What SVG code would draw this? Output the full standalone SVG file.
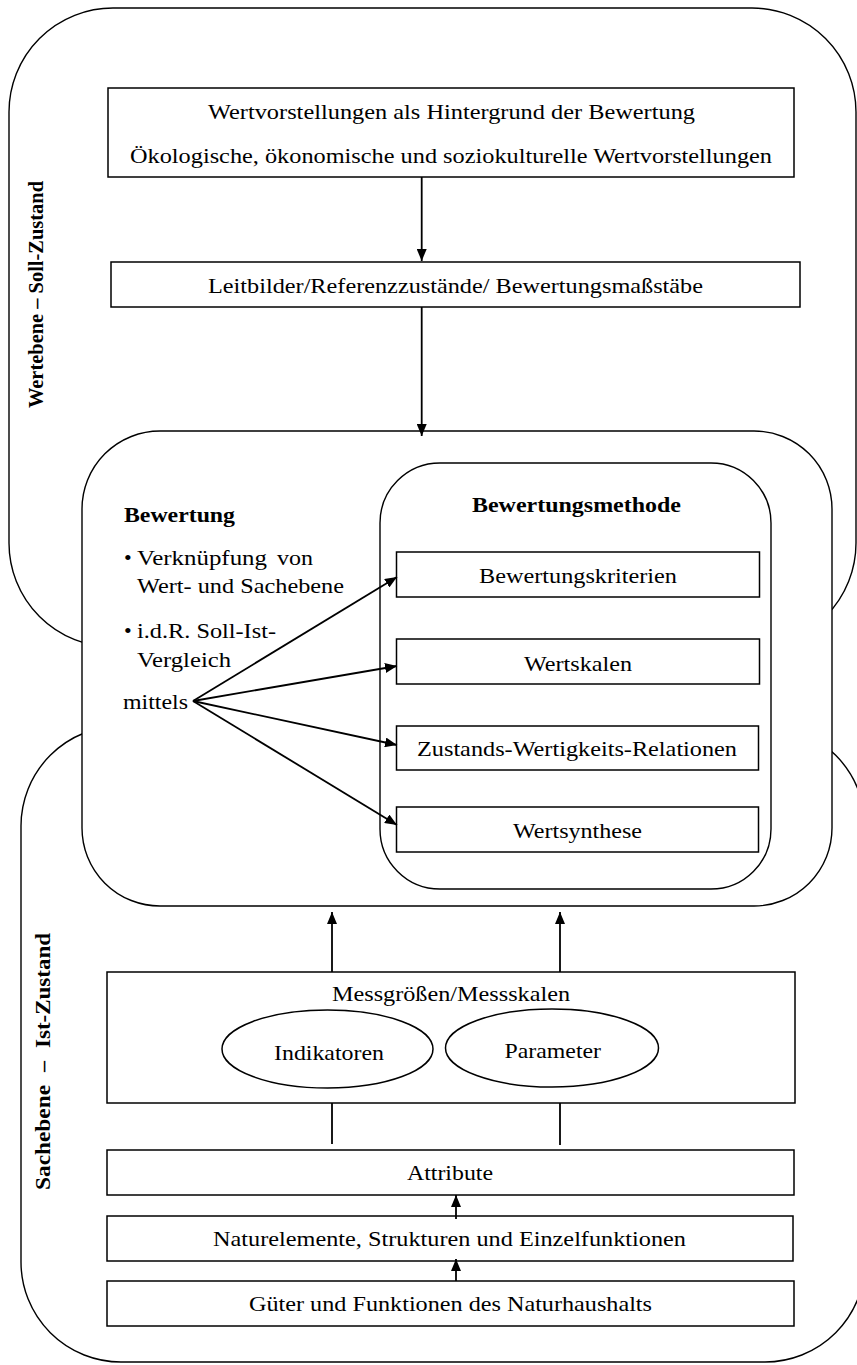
<svg xmlns="http://www.w3.org/2000/svg" width="857" height="1365" viewBox="0 0 857 1365">
  <style>
    .frame { fill: none; stroke: #000; stroke-width: 1.4; }
    .panel { fill: #fff; stroke: #000; stroke-width: 1.4; }
    .box { fill: #fff; stroke: #000; stroke-width: 1.5; }
    .link { fill: none; stroke: #000; stroke-width: 1.8; }
    .arrow { fill: none; stroke: #000; stroke-width: 1.8; marker-end: url(#ah); }
    text { font-family: "Liberation Serif", Tinos, "Times New Roman", Times, serif; font-size: 22px; fill: #000; }
    .b { font-weight: bold; }
    .side { font-weight: bold; font-size: 20.5px; }
    .side2 { font-weight: bold; font-size: 22px; }
  </style>
  <defs>
    <marker id="ah" markerWidth="12" markerHeight="10" refX="12" refY="5" orient="auto" markerUnits="userSpaceOnUse">
      <path d="M0,0 L12,5 L0,10 z" fill="#000"/>
    </marker>
  </defs>

  <!-- level frames -->
  <g id="wertebene">
    <rect class="frame" x="9" y="8" width="847" height="639" rx="104" ry="104"/>
    <text class="side" transform="translate(43,408) rotate(-90)" x="0" y="0" textLength="227" lengthAdjust="spacingAndGlyphs">Wertebene – Soll-Zustand</text>
  </g>
  <g id="sachebene">
    <rect class="frame" x="21" y="726" width="844" height="636" rx="100" ry="100"/>
    <g transform="translate(50,1190) rotate(-90)">
      <text class="side2" x="0" y="0" textLength="105" lengthAdjust="spacingAndGlyphs">Sachebene</text>
      <text class="side2" x="118" y="0">–</text>
      <text class="side2" x="142" y="0" textLength="115" lengthAdjust="spacingAndGlyphs">Ist-Zustand</text>
    </g>
  </g>

  <!-- upper value level -->
  <g id="wertvorstellungen">
    <rect class="box" x="108" y="88" width="686" height="89"/>
    <text x="208" y="119" textLength="487" lengthAdjust="spacingAndGlyphs">Wertvorstellungen als Hintergrund der Bewertung</text>
    <text x="130" y="163" textLength="642" lengthAdjust="spacingAndGlyphs">Ökologische, ökonomische und soziokulturelle Wertvorstellungen</text>
  </g>
  <g id="leitbilder">
    <rect class="box" x="111" y="262" width="689" height="45"/>
    <text x="208" y="293" textLength="495" lengthAdjust="spacingAndGlyphs">Leitbilder/Referenzzustände/ Bewertungsmaßstäbe</text>
  </g>

  <!-- assessment -->
  <g id="bewertung">
    <rect class="panel" x="82" y="431" width="750" height="475" rx="78" ry="78"/>
    <text class="b" x="124" y="522" textLength="111" lengthAdjust="spacingAndGlyphs">Bewertung</text>
    <text x="124" y="565">•</text>
    <text x="137" y="565" textLength="130" lengthAdjust="spacingAndGlyphs">Verknüpfung</text>
    <text x="277" y="565" textLength="36" lengthAdjust="spacingAndGlyphs">von</text>
    <text x="137" y="593" textLength="207" lengthAdjust="spacingAndGlyphs">Wert- und Sachebene</text>
    <text x="124" y="638">•</text>
    <text x="137" y="638" textLength="139" lengthAdjust="spacingAndGlyphs">i.d.R. Soll-Ist-</text>
    <text x="137" y="667" textLength="94" lengthAdjust="spacingAndGlyphs">Vergleich</text>
    <text x="123" y="709" textLength="65" lengthAdjust="spacingAndGlyphs">mittels</text>
  </g>
  <g id="bewertungsmethode">
    <rect class="panel" x="380" y="463" width="391" height="426" rx="60" ry="60"/>
    <text class="b" x="472" y="512" textLength="209" lengthAdjust="spacingAndGlyphs">Bewertungsmethode</text>
  </g>
  <g id="kriterien">
    <rect class="box" x="396.5" y="552" width="363" height="45"/>
    <text x="479" y="583" textLength="198" lengthAdjust="spacingAndGlyphs">Bewertungskriterien</text>
  </g>
  <g id="wertskalen">
    <rect class="box" x="396.5" y="639" width="363" height="45"/>
    <text x="524" y="671" textLength="108" lengthAdjust="spacingAndGlyphs">Wertskalen</text>
  </g>
  <g id="relationen">
    <rect class="box" x="396.5" y="726" width="362" height="44"/>
    <text x="417" y="756" textLength="320" lengthAdjust="spacingAndGlyphs">Zustands-Wertigkeits-Relationen</text>
  </g>
  <g id="wertsynthese">
    <rect class="box" x="396.5" y="807" width="362" height="45"/>
    <text x="513" y="838" textLength="129" lengthAdjust="spacingAndGlyphs">Wertsynthese</text>
  </g>

  <!-- factual level -->
  <g id="messgroessen">
    <rect class="box" x="107" y="972" width="688" height="131"/>
    <text x="332" y="1001" textLength="238" lengthAdjust="spacingAndGlyphs">Messgrößen/Messskalen</text>
  </g>
  <g id="indikatoren">
    <ellipse class="box" cx="327.5" cy="1049" rx="105.5" ry="39"/>
    <text x="274" y="1060" textLength="110" lengthAdjust="spacingAndGlyphs">Indikatoren</text>
  </g>
  <g id="parameter">
    <ellipse class="box" cx="552" cy="1048" rx="106.5" ry="39"/>
    <text x="504.5" y="1058" textLength="96.5" lengthAdjust="spacingAndGlyphs">Parameter</text>
  </g>
  <g id="attribute">
    <rect class="box" x="107" y="1150" width="687" height="45"/>
    <text x="407" y="1180" textLength="86" lengthAdjust="spacingAndGlyphs">Attribute</text>
  </g>
  <g id="naturelemente">
    <rect class="box" x="107" y="1216" width="686" height="45"/>
    <text x="213" y="1246" textLength="473" lengthAdjust="spacingAndGlyphs">Naturelemente, Strukturen und Einzelfunktionen</text>
  </g>
  <g id="gueter">
    <rect class="box" x="107" y="1281" width="687" height="45"/>
    <text x="249" y="1311" textLength="403" lengthAdjust="spacingAndGlyphs">Güter und Funktionen des Naturhaushalts</text>
  </g>

  <!-- connectors -->
  <g id="connectors">
    <path class="arrow" d="M421.7,177 L421.7,261"/>
    <path class="arrow" d="M421.7,307 L421.7,436"/>
    <path class="arrow" d="M193,701 L397,577"/>
    <path class="arrow" d="M193,701 L397,666"/>
    <path class="arrow" d="M193,701 L397,745"/>
    <path class="arrow" d="M193,701 L397,825"/>
    <path class="arrow" d="M332,972 L332,912"/>
    <path class="arrow" d="M560,972 L560,912"/>
    <path class="link" d="M332,1103 L332,1144"/>
    <path class="link" d="M560,1103 L560,1145"/>
    <path class="arrow" d="M456,1219 L456,1195"/>
    <path class="arrow" d="M456,1281 L456,1259"/>
  </g>
</svg>
